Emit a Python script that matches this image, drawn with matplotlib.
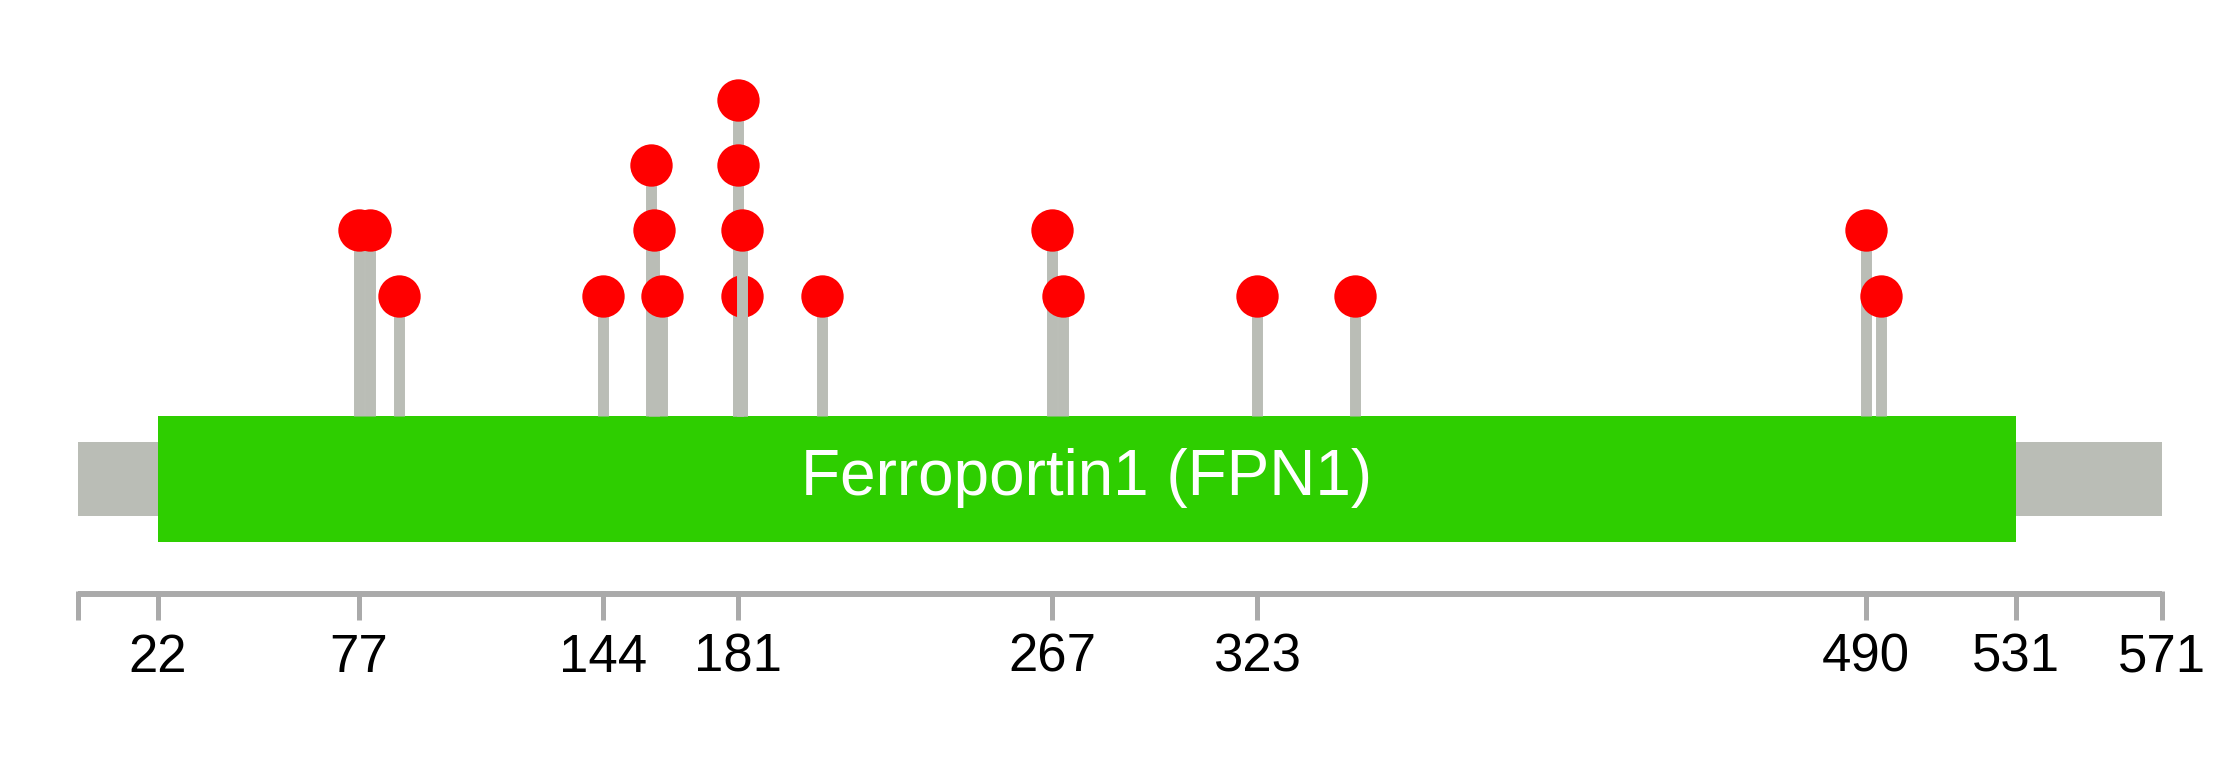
import matplotlib
matplotlib.use("Agg")
import matplotlib.pyplot as plt
from matplotlib.patches import Rectangle

# ── Data ──────────────────────────────────────────────────────────────────────
protein_length = 571
domain_name = "Ferroportin1 (FPN1)"
domain_start = 22
domain_end = 531

# mutation positions and counts, in draw order
mut_pos = [77, 80, 88, 144, 157, 158, 160, 181, 181, 182, 182, 204, 267, 270, 323, 350, 490, 494]
mut_count = [2, 2, 1, 1, 3, 2, 1, 4, 3, 1, 2, 1, 2, 1, 1, 1, 2, 1]

tick_pos = [0, 22, 77, 144, 181, 267, 323, 490, 531, 571]
tick_labels = ["", "22", "77", "144", "181", "267", "323", "490", "531", "571"]

# ── Layout (pixels, figure is 2239 x 776) ────────────────────────────────────
W, H, DPI = 2239, 776, 100
X0_PX, PX_PER_AA = 77.7, 3.65
LEVEL1_Y, LEVEL_STEP = 295.7, 65.3
GREEN_TOP, GREEN_BOT = 416, 542
GRAY_TOP, GRAY_BOT = 442, 516
AXIS_Y, TICK_BOT, LABEL_Y = 594, 620, 658

GRAY = "#BABDB6"
GREEN = "#2ECE00"
RED = "#FF0000"
AXIS_GRAY = "#AAAAAA"

plt.rcParams["font.family"] = ["Liberation Sans", "DejaVu Sans"]

fig = plt.figure(figsize=(W / DPI, H / DPI), dpi=DPI)
ax = fig.add_axes([0, 0, 1, 1])
ax.set_xlim(-X0_PX / PX_PER_AA, (W - X0_PX) / PX_PER_AA)
ax.set_ylim(H, 0)
ax.axis("off")

# backbone + domain
ax.add_patch(Rectangle((0, GRAY_TOP), protein_length, GRAY_BOT - GRAY_TOP,
                       facecolor=GRAY, edgecolor="none", zorder=1))
ax.add_patch(Rectangle((domain_start, GREEN_TOP), domain_end - domain_start,
                       GREEN_BOT - GREEN_TOP, facecolor=GREEN, edgecolor="none", zorder=2))
ax.text((domain_start + domain_end) / 2, (GREEN_TOP + GREEN_BOT) / 2 - 1, domain_name,
        color="white", fontsize=46, ha="center", va="center", zorder=3)

# lollipops
z = 10
for p, c in zip(mut_pos, mut_count):
    y = LEVEL1_Y - (c - 1) * LEVEL_STEP
    ax.vlines(p, y, GREEN_TOP, color=GRAY, lw=7.9, zorder=z)
    ax.plot(p, y, "o", color=RED, markersize=30.5, markeredgewidth=0, zorder=z + 1)
    z += 2

# position axis
ax.hlines(AXIS_Y, 0, protein_length, color=AXIS_GRAY, lw=4.3, zorder=1)
ax.vlines(tick_pos, AXIS_Y - 3, TICK_BOT, color=AXIS_GRAY, lw=3.6, zorder=1)
for p, lab in zip(tick_pos, tick_labels):
    ax.text(p, LABEL_Y, lab, fontsize=38, ha="center", va="center", color="black")

fig.savefig("out.png", dpi=DPI)
